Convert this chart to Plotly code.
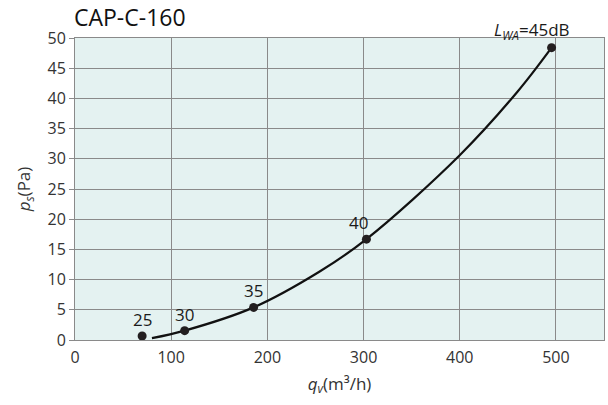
import plotly.graph_objects as go

# Sound-level operating points (airflow m³/h, static pressure Pa)
level_labels = ["25", "30", "35", "40", "45"]
point_flow = [69.8, 114, 185.7, 303, 495.5]
point_pressure = [0.66, 1.55, 5.4, 16.7, 48.4]

# Fan curve points
curve_flow = [80, 114, 185.7, 254, 303, 400, 460, 495.5]
curve_pressure = [0.3, 1.55, 5.4, 11.3, 16.7, 30.6, 41.1, 48.4]

x_ticks = [0, 100, 200, 300, 400, 500]
y_ticks = [0, 5, 10, 15, 20, 25, 30, 35, 40, 45, 50]

FONT = "Open Sans, Noto Sans, sans-serif"
GRID = "#8a8a8a"

fig = go.Figure()

fig.add_trace(go.Scatter(
    x=curve_flow, y=curve_pressure, mode="lines",
    line=dict(color="#111111", width=2.2, shape="spline", smoothing=1.0),
    hoverinfo="skip", showlegend=False,
))

fig.add_trace(go.Scatter(
    x=point_flow, y=point_pressure, mode="markers",
    marker=dict(color="#231f20", size=9),
    showlegend=False,
))

# Level labels above each point; the last one carries the L_WA prefix
shifts = [0, 0, 0, -8, -20]
for i, (lab, qx, py) in enumerate(zip(level_labels, point_flow, point_pressure)):
    text = lab
    if i == len(level_labels) - 1:
        text = "<i>L<sub>WA</sub></i>=" + lab + "dB"
    fig.add_annotation(
        x=qx, y=py, text=text, showarrow=False,
        xanchor="center", yanchor="bottom", yshift=3, xshift=shifts[i],
        font=dict(family=FONT, size=17, color="#1a1a1a"),
    )

fig.update_layout(
    width=608, height=405,
    margin=dict(l=75, r=4, t=38, b=65),
    paper_bgcolor="white",
    plot_bgcolor="#e4f2f1",
    font=dict(family=FONT, size=16, color="#333333"),
    title=dict(text="CAP-C-160", x=74 / 608, xanchor="left",
               y=1 - 18 / 405, yanchor="middle",
               font=dict(family=FONT, size=23, color="#111111")),
    xaxis=dict(
        range=[0, 550], tickvals=x_ticks, ticktext=[str(v) for v in x_ticks],
        showgrid=True, gridcolor=GRID, gridwidth=1,
        showline=True, linecolor=GRID, linewidth=1, mirror=True,
        zeroline=False, ticks="outside", ticklen=3, tickcolor="rgba(0,0,0,0)",
        title=dict(text="<i>q<sub>v</sub></i>(m³/h)", standoff=10,
                   font=dict(family=FONT, size=17, color="#333333")),
    ),
    yaxis=dict(
        range=[0, 50], tickvals=y_ticks, ticktext=[str(v) for v in y_ticks],
        showgrid=True, gridcolor=GRID, gridwidth=1,
        showline=True, linecolor=GRID, linewidth=1, mirror=True,
        zeroline=False, ticks="outside", ticklen=5, tickcolor=GRID,
        title=dict(text="<i>p<sub>s</sub></i>(Pa)", standoff=12,
                   font=dict(family=FONT, size=17, color="#333333")),
    ),
)

fig.write_html("out.html")
